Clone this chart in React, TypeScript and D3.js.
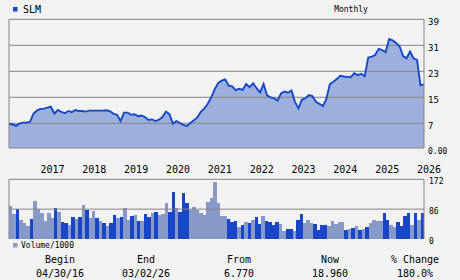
import React from "react";
import * as d3 from "d3";

const ticker = "SLM";
const period = "Monthly";
const beginDate = "04/30/16";
const endDate = "03/02/26";

const prices = [
  6.77, 6.7, 6.2, 6.9, 7.2, 7.2, 7.4, 9.9, 10.9, 11.4, 11.5, 11.8, 12.1, 10.0, 11.1, 10.5, 10.1, 10.8, 10.4, 11.1,
  10.8, 10.8, 10.6, 10.9, 10.9, 10.9, 10.9, 10.9, 11.0, 10.7, 9.9, 9.6, 7.7, 10.3, 10.3, 9.6, 9.8, 9.2, 9.4, 8.9,
  8.0, 8.2, 7.7, 8.1, 8.9, 10.6, 9.8, 6.9, 7.7, 7.1, 6.5, 6.2, 7.1, 7.9, 8.8, 10.5, 11.5, 13.0, 15.0, 17.5,
  19.4, 20.1, 20.5, 18.6, 18.4, 17.2, 17.6, 17.3, 19.1, 18.1, 19.3, 17.8, 16.5, 19.1, 15.6, 15.0, 14.7, 14.0, 16.2, 16.8,
  16.4, 17.1, 13.6, 11.6, 14.3, 14.7, 15.7, 15.4, 13.6, 13.0, 12.3, 14.5, 19.1, 19.8, 20.6, 21.6, 21.4, 21.3, 21.2, 22.4,
  21.8, 22.2, 21.5, 27.2, 27.5, 28.0, 29.9, 29.5, 28.9, 32.9, 32.5, 31.7, 30.7, 27.7, 27.0, 29.1, 27.0, 26.5, 18.7, 18.96,
];

const volumes = [
  95, 72, 86, 54, 46, 37, 57, 109, 87, 75, 52, 75, 60, 89, 77, 49, 46, 40, 63, 57,
  63, 97, 83, 60, 80, 60, 52, 46, 37, 46, 69, 60, 63, 89, 54, 66, 69, 52, 52, 72,
  63, 75, 77, 69, 72, 103, 77, 135, 89, 77, 132, 103, 83, 92, 83, 75, 69, 106, 118, 163,
  103, 66, 66, 57, 49, 52, 34, 40, 49, 46, 55, 63, 43, 66, 52, 49, 40, 49, 43, 23,
  29, 29, 23, 55, 72, 46, 55, 46, 43, 26, 40, 40, 37, 52, 43, 49, 49, 26, 29, 32,
  37, 26, 29, 34, 46, 55, 52, 52, 75, 55, 40, 34, 49, 37, 66, 75, 40, 75, 55, 75,
];

// 1 = dark bar, 0 = light bar
const volDark = [
  0, 0, 1, 0, 0, 0, 1, 0, 0, 0, 0, 0, 0, 1, 0, 1, 1, 0, 1, 0,
  1, 0, 1, 0, 0, 1, 0, 1, 0, 1, 1, 0, 1, 0, 0, 1, 0, 1, 0, 1,
  1, 0, 1, 0, 0, 0, 1, 1, 0, 1, 1, 1, 0, 0, 0, 0, 0, 0, 0, 0,
  0, 0, 0, 1, 1, 1, 0, 1, 0, 1, 0, 1, 1, 0, 1, 1, 1, 1, 0, 0,
  1, 1, 0, 1, 1, 0, 0, 0, 1, 1, 1, 1, 0, 0, 0, 0, 0, 1, 0, 1,
  0, 1, 0, 1, 0, 0, 0, 0, 1, 1, 0, 0, 1, 1, 1, 1, 0, 1, 0, 1,
];

const yearLabels = ["2017", "2018", "2019", "2020", "2021", "2022", "2023", "2024", "2025", "2026"];
const yearStartIndex = [9, 21, 33, 45, 57, 69, 81, 93, 105, 117];
const priceTicks = [7, 15, 23, 31, 39];
const priceTickLabels = ["7", "15", "23", "31", "39"];
const volTicks = [0, 86, 172];

const FONT = "'DejaVu Sans Mono', monospace";
const BG = "#f2f2f2";
const FRAME = "#848484";
const LINE = "#1448c8";
const FILL = "#9dafdc";
const DARK = "#1846c6";
const LIGHT = "#8799c9";

export default function App() {
  const left = 9;
  const right = 424;
  const pTop = 19.3;
  const pBottom = 148;
  const vTop = 179.3;
  const vBottom = 239;

  const x = d3.scaleLinear().domain([0, prices.length - 1]).range([left, right]);
  const y = d3.scaleLinear().domain([-0.6, 39]).range([pBottom, pTop]);
  const xb = d3
    .scaleBand<number>()
    .domain(volumes.map((_, i) => i))
    .range([left, right])
    .padding(0);
  const yv = d3.scaleLinear().domain([0, 172]).range([vBottom, vTop]);

  const line = d3
    .line<number>()
    .x((_, i) => x(i))
    .y((d) => y(d));
  const area = d3
    .area<number>()
    .x((_, i) => x(i))
    .y0(pBottom)
    .y1((d) => y(d));

  const first = prices[0];
  const last = prices[prices.length - 1];
  const change = Math.floor(((last - first) / first) * 1000) / 10;

  const bottomCols = [
    { label: "Begin", value: beginDate, cx: 60 },
    { label: "End", value: endDate, cx: 146 },
    { label: "From", value: first.toFixed(3), cx: 239 },
    { label: "Now", value: last.toFixed(3), cx: 330 },
    { label: "% Change", value: change.toFixed(1) + "%", cx: 415 },
  ];

  return (
    <div style={{ position: "fixed", left: 0, top: 0 }}>
      <svg width={460} height={280} style={{ display: "block", background: BG }} fontFamily={FONT}>
        <rect x={0} y={0} width={460} height={280} fill={BG} />
        {/* header */}
        <rect x={13} y={7} width={4.5} height={4.5} fill={DARK} />
        <text x={23} y={13} fontSize={10} fill="#000">
          {ticker}
        </text>
        <text x={351} y={12} fontSize={8} fill="#000" textAnchor="middle">
          {period}
        </text>

        {/* price panel */}
        <path d={area(prices) || ""} fill={FILL} />
        {priceTicks.map((t) => (
          <line key={t} x1={left} x2={right} y1={y(t)} y2={y(t)} stroke={FRAME} strokeWidth={1} />
        ))}
        <path d={line(prices) || ""} fill="none" stroke={LINE} strokeWidth={1.9} />
        <line x1={left} x2={left} y1={pTop} y2={pBottom} stroke={FRAME} />
        <line x1={right} x2={right} y1={pTop} y2={pBottom} stroke={FRAME} />
        <line x1={left} x2={right} y1={pBottom} y2={pBottom} stroke={FRAME} />
        {priceTicks.map((t, k) => (
          <text key={t} x={428} y={y(t) + 6} fontSize={9} fill="#000">
            {priceTickLabels[k]}
          </text>
        ))}
        <text x={428} y={pBottom + 6} fontSize={8} fill="#000">
          0.00
        </text>

        {/* year labels */}
        {yearLabels.map((yl, k) => (
          <text key={yl} x={x(yearStartIndex[k])} y={173} fontSize={10} fill="#000">
            {yl}
          </text>
        ))}

        {/* volume panel */}
        {volumes.map((v, i) => (
          <rect
            key={i}
            x={xb(i)}
            y={yv(v)}
            width={xb.bandwidth()}
            height={vBottom - yv(v)}
            fill={volDark[i] ? DARK : LIGHT}
            shapeRendering="crispEdges"
          />
        ))}
        <line x1={left} x2={right} y1={yv(172)} y2={yv(172)} stroke={FRAME} />
        <line x1={left} x2={right} y1={yv(86)} y2={yv(86)} stroke={FRAME} />
        <line x1={left} x2={left} y1={vTop} y2={vBottom} stroke={FRAME} />
        <line x1={right} x2={right} y1={vTop} y2={vBottom} stroke={FRAME} />
        {volTicks.map((t) => (
          <text key={t} x={429} y={yv(t) + 5} fontSize={8} fill="#000">
            {t}
          </text>
        ))}

        {/* volume legend */}
        <rect x={13} y={243} width={4.5} height={4.5} fill={LIGHT} />
        <text x={21} y={248} fontSize={8} fill="#000">
          Volume/1000
        </text>

        {/* bottom summary */}
        {bottomCols.map((c) => (
          <g key={c.label}>
            <text x={c.cx} y={263} fontSize={10} textAnchor="middle" fill="#000">
              {c.label}
            </text>
            <text x={c.cx} y={277} fontSize={10} textAnchor="middle" fill="#000">
              {c.value}
            </text>
          </g>
        ))}
      </svg>
    </div>
  );
}
